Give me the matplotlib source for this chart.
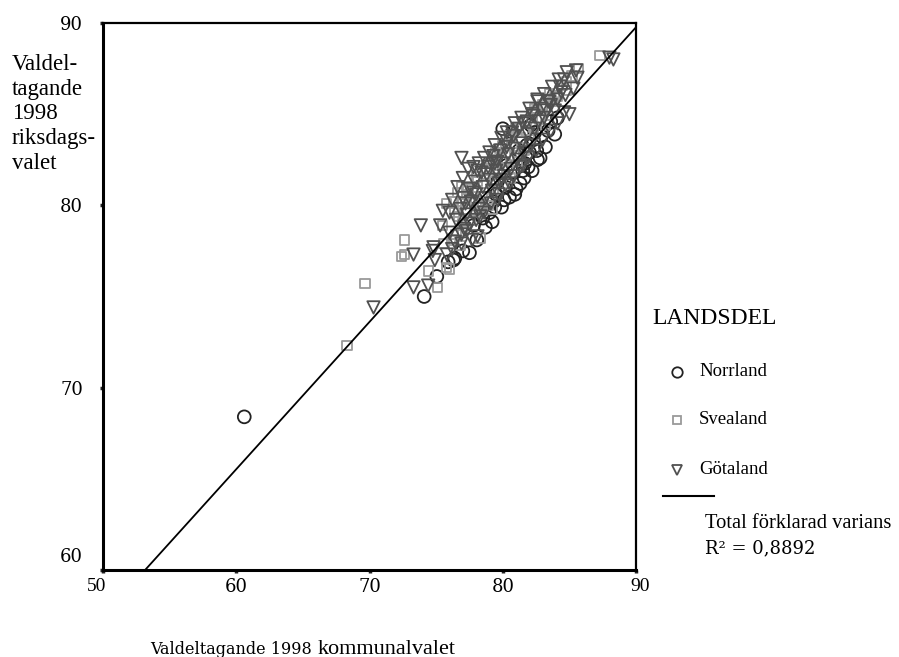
import matplotlib
matplotlib.use('Agg')
import matplotlib.pyplot as plt
import numpy as np
from matplotlib.lines import Line2D
from matplotlib.transforms import ScaledTranslation

# Valdeltagande 1998, kommunalval (x) vs riksdagsval (y), per landsdel
norr_x = [60.6, 74.1, 75.05, 75.9, 76.4, 78.5, 79.2, 78.05, 77.0, 76.3, 77.5, 81.3, 81.65,
          82.0, 80.5, 79.9, 79.0, 80.7, 82.6, 82.55, 84.1, 83.4, 79.5, 80.2, 80.8, 81.0,
          81.9, 82.3, 82.9, 83.6, 78.7, 79.6, 80.3, 81.2, 77.8, 78.3, 80.0, 82.1, 79.3, 81.5,
          80.9, 81.6, 82.2, 82.8, 83.2, 83.9, 80.1, 79.4, 81.8, 82.4]
norr_y = [68.4, 75.0, 76.1, 76.9, 77.1, 79.3, 79.1, 78.1, 77.5, 77.0, 77.4, 81.2, 82.3,
          82.9, 80.45, 79.9, 79.6, 84.0, 82.5, 83.0, 84.8, 84.1, 80.6, 81.0, 81.8, 80.9,
          82.1, 83.6, 83.8, 84.6, 78.8, 81.3, 82.2, 83.0, 78.9, 80.0, 84.2, 84.4, 80.2, 81.9,
          80.6, 81.5, 81.9, 82.6, 83.2, 83.9, 80.3, 79.9, 83.3, 84.0]

svea_x = [69.65, 72.4, 68.3, 74.4, 75.1, 72.6, 76.0, 72.6, 75.8, 76.6, 75.5, 76.2, 76.8,
          78.3, 75.8, 78.05, 76.9, 77.4, 76.3, 80.2, 80.7, 78.5, 78.3, 82.55, 80.0, 83.9,
          87.3, 85.7, 84.5, 83.75, 77.8, 78.6, 79.0, 79.3, 79.6, 79.9, 80.4, 80.9, 81.3,
          81.7, 82.0, 82.8, 83.2, 79.2, 77.6, 78.9, 80.6, 81.6, 82.4, 83.5, 76.7, 77.2,
          81.0, 84.8, 75.6, 77.0, 78.0, 79.4, 80.1, 81.1, 82.2, 83.0,
          76.4, 76.9, 77.3, 77.7, 78.1, 78.8, 79.1, 79.5, 81.8, 82.3, 83.0, 84.1, 84.8,
          85.2, 80.5, 79.8, 78.0, 77.0, 76.5]
svea_y = [75.7, 77.2, 72.3, 76.4, 75.5, 78.1, 76.5, 77.3, 80.1, 80.7, 78.9, 78.1, 77.8,
          78.2, 76.6, 81.55, 81.0, 80.9, 80.2, 83.3, 83.4, 80.5, 79.9, 85.2, 83.3, 85.9,
          88.2, 87.5, 86.6, 85.7, 80.3, 81.2, 82.0, 80.9, 81.7, 82.6, 82.0, 82.7, 83.7,
          84.1, 83.6, 84.7, 84.4, 79.8, 79.2, 80.0, 81.5, 83.0, 85.3, 86.1, 79.4, 79.8,
          84.2, 86.3, 77.9, 78.6, 79.6, 81.3, 81.9, 82.4, 84.8, 85.5,
          79.6, 80.2, 80.6, 81.0, 81.3, 81.9, 82.3, 82.9, 84.6, 84.3, 85.3, 86.0, 86.8,
          87.1, 83.8, 83.1, 80.2, 79.0, 78.4]

gota_x = [73.3, 70.3, 73.3, 74.4, 74.9, 74.8, 73.85, 76.0, 75.3, 76.0, 74.75, 75.8, 76.9,
          77.3, 77.7, 78.1, 77.2, 76.9, 78.1, 79.4, 80.3, 78.8, 77.8, 79.8, 79.2, 80.7,
          81.5, 82.2, 83.4, 85.0, 84.4, 82.6, 79.6, 88.0, 88.3, 85.3, 84.7, 83.5, 83.3,
          84.1, 76.5, 76.8, 77.0, 77.3, 77.5, 77.6, 77.9, 78.0, 78.2, 78.4, 78.5, 78.7,
          78.9, 79.0, 79.2, 79.3, 79.5, 79.7, 79.8, 80.0, 80.1, 80.3, 80.4, 80.6, 80.8,
          80.9, 81.1, 81.2, 81.4, 81.6, 81.8, 81.9, 82.1, 82.3, 82.4, 82.7, 82.9, 83.1,
          83.6, 83.9, 84.3, 84.6, 85.5, 79.6, 80.5, 81.5, 78.3, 77.1,
          76.2, 76.6, 77.0, 77.4, 77.8, 78.2, 78.6, 79.0, 79.4, 79.9, 80.3, 80.9, 81.4,
          82.0, 82.6, 83.1, 83.7, 84.2, 84.8, 85.6, 76.4, 76.9, 77.5, 78.0, 78.6, 79.1,
          79.7, 80.2, 80.8, 81.3, 81.9, 82.5, 83.0, 83.6, 84.1, 84.6, 75.5, 76.2]
gota_y = [77.3, 74.4, 75.5, 75.6, 77.0, 77.7, 78.9, 79.6, 78.9, 78.5, 77.5, 77.3, 77.9,
          78.6, 78.1, 78.3, 80.1, 82.6, 81.9, 82.3, 83.2, 81.7, 80.7, 81.4, 82.3, 84.0,
          84.5, 85.0, 85.7, 85.0, 86.2, 85.8, 82.4, 88.1, 88.0, 86.4, 86.05, 85.7, 85.2,
          85.8, 79.2, 79.8, 80.4, 79.5, 80.9, 80.2, 81.3, 80.6, 79.8, 81.8, 81.0, 80.4,
          82.1, 81.4, 80.8, 82.7, 81.9, 81.2, 83.0, 82.3, 81.6, 83.5, 82.8, 82.0, 83.8,
          83.1, 82.5, 84.2, 83.4, 82.9, 84.6, 83.9, 83.3, 84.9, 84.2, 84.6, 85.3, 84.8,
          85.5, 85.2, 86.5, 86.9, 87.4, 80.3, 81.2, 82.2, 79.4, 78.7,
          80.3, 81.0, 81.5, 82.0, 82.1, 82.3, 82.6, 82.9, 83.3, 83.7, 84.0, 84.5, 84.8,
          85.3, 85.7, 86.1, 86.5, 86.9, 87.3, 87.0, 78.0, 78.4, 79.0, 79.2, 79.6, 80.1,
          80.6, 81.1, 81.6, 82.1, 82.6, 83.0, 83.6, 84.1, 84.5, 85.1, 79.7, 77.6]

# regressionslinje
fit_a = 17.05
fit_b = 0.808
r2_text = 'R² = 0,8892'

serif = 'Liberation Serif'

fig = plt.figure(figsize=(8.99, 6.57), dpi=100)
ax = fig.add_axes([0.1146, 0.1324, 0.5929, 0.8326])

ax.scatter(norr_x, norr_y, s=85, marker='o', facecolors='none', edgecolors='#222222', linewidths=1.3, zorder=3)
ax.scatter(svea_x, svea_y, s=45, marker='s', facecolors='none', edgecolors='#9a9a9a', linewidths=1.3, zorder=3)
ax.scatter(gota_x, gota_y, s=80, marker='v', facecolors='none', edgecolors='#505050', linewidths=1.3, zorder=3)

lx = np.array([50, 90])
ax.plot(lx, fit_a + fit_b * lx, color='black', lw=1.3, zorder=4)

ax.set_xlim(50, 90)
ax.set_ylim(60, 90)
ax.set_xticks([50, 60, 70, 80, 90])
ax.set_yticks([60, 70, 80, 90])
ax.set_xticklabels(['50', '60', '70', '80', '90'])
ax.set_yticklabels(['60', '70', '80', '90'])

for sp in ['left', 'bottom']:
    ax.spines[sp].set_linewidth(2.2)
for sp in ['top', 'right']:
    ax.spines[sp].set_linewidth(1.6)

ax.tick_params(axis='both', direction='out', length=2.5, width=2.5, color='#222222')
ax.tick_params(axis='y', pad=12)
ax.tick_params(axis='x', pad=3)

for lab in ax.get_yticklabels():
    lab.set_fontfamily('DejaVu Serif')
    lab.set_fontsize(13)
    if lab.get_text() == '60':
        lab.set_transform(lab.get_transform() + ScaledTranslation(0, 0.15, fig.dpi_scale_trans))
for lab in ax.get_xticklabels():
    if lab.get_text() in ('50', '90'):
        lab.set_fontfamily(serif)
        lab.set_fontsize(14)
        shift = -0.06 if lab.get_text() == '50' else 0.04
        lab.set_transform(lab.get_transform() + ScaledTranslation(shift, 0, fig.dpi_scale_trans))
    else:
        lab.set_fontfamily('DejaVu Serif')
        lab.set_fontsize(13)

# y-axeltitel
fig.text(12 / 899, 1 - 54 / 657, 'Valdel-\ntagande\n1998\nriksdags-\nvalet', ha='left', va='top',
         fontfamily=serif, fontsize=16.5, linespacing=1.23)

# x-axeltitel
fig.text(150 / 899, 1 - 649 / 657, 'Valdeltagande 1998', ha='left', va='center',
         fontfamily='DejaVu Serif', fontsize=11.5)
fig.text(318 / 899, 1 - 649 / 657, 'kommunalvalet', ha='left', va='center',
         fontfamily=serif, fontsize=16)

# legend
fig.text(652 / 899, 1 - 318 / 657, 'LANDSDEL', ha='left', va='center', fontfamily=serif, fontsize=17)
leg_items = [('Norrland', 'o', '#222222', 7.5, 372),
             ('Svealand', 's', '#9a9a9a', 5.5, 420),
             ('Götaland', 'v', '#505050', 7.0, 470)]
for name, mk, col, ms, py in leg_items:
    fig.add_artist(Line2D([677 / 899], [1 - py / 657], marker=mk, markersize=ms, markerfacecolor='none',
                          markeredgecolor=col, markeredgewidth=1.3, linestyle='none', transform=fig.transFigure))
    fig.text(699 / 899, 1 - py / 657, name, ha='left', va='center', fontfamily=serif, fontsize=13.5)

fig.add_artist(Line2D([663 / 899, 714 / 899], [1 - 496 / 657, 1 - 496 / 657], color='black', lw=1.5,
                      transform=fig.transFigure))
fig.text(705 / 899, 1 - 524 / 657, 'Total förklarad varians', ha='left', va='center', fontfamily=serif, fontsize=14.8)
fig.text(705 / 899, 1 - 548 / 657, r2_text, ha='left', va='center', fontfamily='DejaVu Serif', fontsize=13)

fig.savefig('out.png', dpi=100)
